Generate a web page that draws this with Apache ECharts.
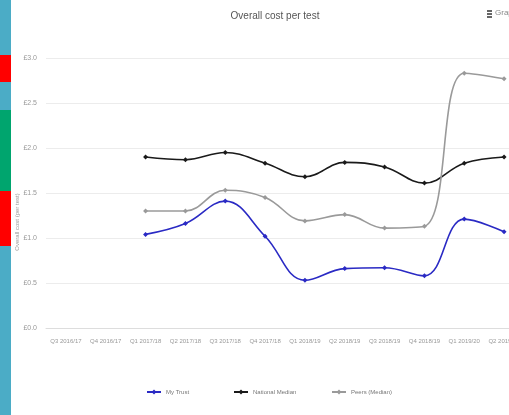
<!DOCTYPE html>
<html>
<head>
<meta charset="utf-8">
<script src="https://cdn.jsdelivr.net/npm/echarts@6/dist/echarts.min.js"></script>
<style>
  html, body { margin: 0; padding: 0; background: #fff; }
  #chart { width: 509px; height: 415px; }
</style>
</head>
<body>
<div id="chart"></div>
<script>
// Quarter labels along the x axis
var quarters = ['Q3 2016/17', 'Q4 2016/17', 'Q1 2017/18', 'Q2 2017/18', 'Q3 2017/18', 'Q4 2017/18',
                'Q1 2018/19', 'Q2 2018/19', 'Q3 2018/19', 'Q4 2018/19', 'Q1 2019/20', 'Q2 2019/20'];

// Cost per test (GBP) for each series; first two quarters have no data
var myTrust        = [null, null, 1.04, 1.16, 1.41, 1.02, 0.53, 0.66, 0.67, 0.58, 1.21, 1.07];
var nationalMedian = [null, null, 1.90, 1.87, 1.95, 1.83, 1.68, 1.84, 1.79, 1.61, 1.83, 1.90];
var peersMedian    = [null, null, 1.30, 1.30, 1.53, 1.45, 1.19, 1.26, 1.11, 1.13, 2.83, 2.77];

var seriesNames = ['My Trust', 'National Median', 'Peers (Median)'];
var seriesColors = ['#2a2ac4', '#1a1a1a', '#9a9a9a'];
var yAxisTitle = 'Overall cost (per test)';

var chart = echarts.init(document.getElementById('chart'));

function lineSeries(name, data, color) {
  return {
    name: name,
    type: 'line',
    data: data,
    smooth: 0.4,
    symbol: 'diamond',
    symbolSize: 5,
    showSymbol: true,
    lineStyle: { color: color, width: 1.6 },
    itemStyle: { color: color },
    emphasis: { disabled: true }
  };
}

// One legend entry per series, spread along the bottom
var legendLefts = [141, 228, 326];
function legendItem(i) {
  return {
    data: [seriesNames[i]],
    bottom: 15,
    left: legendLefts[i],
    itemWidth: 14,
    itemHeight: 6,
    textStyle: { fontSize: 6, color: '#777', fontFamily: 'Liberation Sans' }
  };
}

chart.setOption({
  animation: false,
  backgroundColor: '#fff',
  title: {
    text: 'Overall cost per test',
    left: 270,
    top: 6,
    textAlign: 'center',
    textStyle: { fontFamily: 'Liberation Sans Narrow, Liberation Sans', fontSize: 10, fontWeight: 'normal', color: '#555' }
  },
  legend: [legendItem(0), legendItem(1), legendItem(2)],
  // The plot runs past the right edge of the page, so the last quarter is cut off
  grid: { left: 46, width: 478, top: 58, height: 270, containLabel: false, outerBoundsMode: 'none' },
  xAxis: {
    type: 'category',
    data: quarters,
    boundaryGap: true,
    axisLine: { lineStyle: { color: '#ddd' } },
    axisTick: { show: false },
    axisLabel: { interval: 0, fontSize: 6, color: '#999', margin: 10, fontFamily: 'Liberation Sans' }
  },
  yAxis: {
    type: 'value',
    min: 0,
    max: 3,
    interval: 0.5,
    axisLine: { show: false },
    axisTick: { show: false },
    axisLabel: {
      fontSize: 7, color: '#999', margin: 9, fontFamily: 'Liberation Sans',
      formatter: function (v) { return '£' + v.toFixed(1); }
    },
    splitLine: { lineStyle: { color: '#ececec' } }
  },
  graphic: [
    // Status strip on the left edge
    { type: 'rect', shape: { x: 0, y: 0, width: 11, height: 415 }, style: { fill: '#4bacc6' } },
    { type: 'rect', shape: { x: 0, y: 55, width: 11, height: 27 }, style: { fill: '#ff0000' } },
    { type: 'rect', shape: { x: 0, y: 110, width: 11, height: 81 }, style: { fill: '#00a56e' } },
    { type: 'rect', shape: { x: 0, y: 191, width: 11, height: 55 }, style: { fill: '#ff0000' } },
    // Vertical axis title, sitting a little below the middle of the plot
    { type: 'text', x: 17, y: 222, rotation: Math.PI / 2,
      style: { text: yAxisTitle, fontSize: 6, fill: '#999', fontFamily: 'Liberation Sans',
               align: 'center', verticalAlign: 'middle' } },
    // Menu button in the top right corner
    { type: 'rect', shape: { x: 487, y: 10, width: 5, height: 2 }, style: { fill: '#666' } },
    { type: 'rect', shape: { x: 487, y: 13, width: 5, height: 2 }, style: { fill: '#666' } },
    { type: 'rect', shape: { x: 487, y: 16, width: 5, height: 2 }, style: { fill: '#666' } },
    { type: 'text', x: 495, y: 9, style: { text: 'Graph', fontSize: 8, fill: '#888', fontFamily: 'Liberation Sans' } }
  ],
  series: [
    lineSeries(seriesNames[0], myTrust, seriesColors[0]),
    lineSeries(seriesNames[1], nationalMedian, seriesColors[1]),
    lineSeries(seriesNames[2], peersMedian, seriesColors[2])
  ]
});
</script>
</body>
</html>
